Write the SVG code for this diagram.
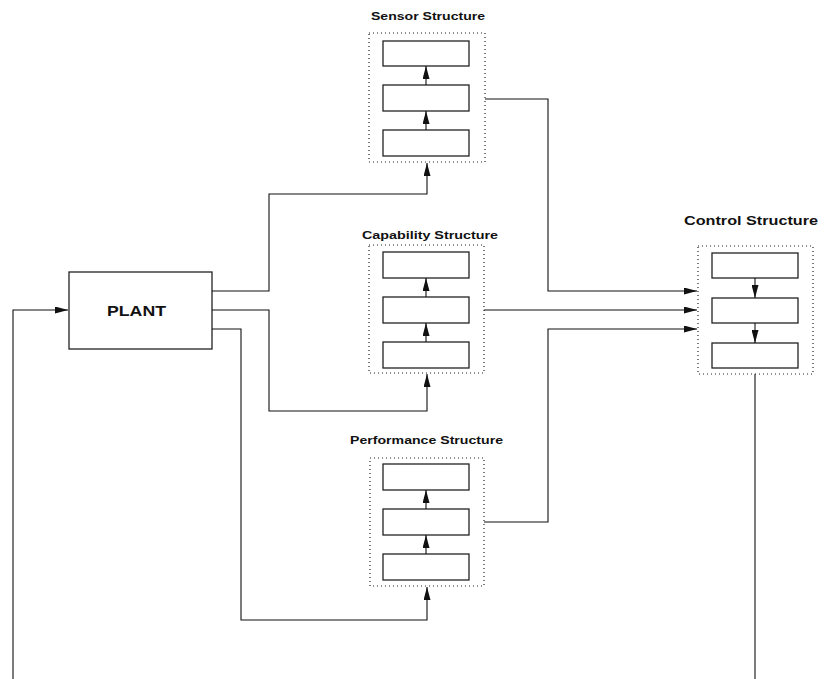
<svg xmlns="http://www.w3.org/2000/svg" width="828" height="679" viewBox="0 0 828 679">
<style>
.bg{fill:#fff}
.box{fill:#fff;stroke:#222;stroke-width:1.3}
.dot{fill:none;stroke:#222;stroke-width:1.2;stroke-dasharray:1 3}
.ln{fill:none;stroke:#111;stroke-width:1.1}
.lbl{font-family:"Liberation Sans",Arial,sans-serif;font-weight:bold;fill:#111;text-anchor:start}
</style>
<defs>
<marker id="ah" markerUnits="userSpaceOnUse" markerWidth="13" markerHeight="7" refX="13" refY="3.5" orient="auto">
<path d="M0,0 L13,3.5 L0,7 z" fill="#111"/>
</marker>
</defs>
<rect class="bg" x="0" y="0" width="828" height="679"/>

<g id="plant">
<rect class="box" x="69" y="272" width="143" height="77"/>
<text class="lbl" x="107" y="316" font-size="14.5" textLength="59" lengthAdjust="spacingAndGlyphs">PLANT</text>
</g>

<g id="sensor">
<text class="lbl" x="371" y="19.5" font-size="11" textLength="114" lengthAdjust="spacingAndGlyphs">Sensor Structure</text>
<rect class="dot" x="369" y="33" width="116" height="129"/>
<rect class="box" x="383" y="41" width="86" height="25"/>
<rect class="box" x="383" y="85" width="86" height="26"/>
<rect class="box" x="383" y="130" width="86" height="26"/>
</g>

<g id="capability">
<text class="lbl" x="362" y="239" font-size="11" textLength="136" lengthAdjust="spacingAndGlyphs">Capability Structure</text>
<rect class="dot" x="369" y="245" width="115" height="128"/>
<rect class="box" x="383" y="252" width="86" height="26"/>
<rect class="box" x="383" y="297" width="86" height="26"/>
<rect class="box" x="383" y="342" width="86" height="26"/>
</g>

<g id="performance">
<text class="lbl" x="350" y="444" font-size="11" textLength="153" lengthAdjust="spacingAndGlyphs">Performance Structure</text>
<rect class="dot" x="370" y="458" width="114" height="128"/>
<rect class="box" x="383" y="464" width="86" height="26"/>
<rect class="box" x="383" y="509" width="86" height="26"/>
<rect class="box" x="383" y="554" width="86" height="26"/>
</g>

<g id="control">
<text class="lbl" x="684" y="225" font-size="13" textLength="134" lengthAdjust="spacingAndGlyphs">Control Structure</text>
<rect class="dot" x="698" y="246" width="115" height="128"/>
<rect class="box" x="712" y="253" width="86" height="25"/>
<rect class="box" x="712" y="298" width="86" height="25"/>
<rect class="box" x="712" y="343" width="86" height="25"/>
</g>

<g id="connectors">
<path class="ln" d="M426,85 V66" marker-end="url(#ah)"/>
<path class="ln" d="M426,130 V111" marker-end="url(#ah)"/>
<path class="ln" d="M426,297 V278" marker-end="url(#ah)"/>
<path class="ln" d="M426,342 V323" marker-end="url(#ah)"/>
<path class="ln" d="M426,509 V490" marker-end="url(#ah)"/>
<path class="ln" d="M426,554 V535" marker-end="url(#ah)"/>
<path class="ln" d="M755,278 V298" marker-end="url(#ah)"/>
<path class="ln" d="M755,323 V343" marker-end="url(#ah)"/>

<path class="ln" d="M485,99 H548 V291 H697" marker-end="url(#ah)"/>
<path class="ln" d="M484,310 H697" marker-end="url(#ah)"/>
<path class="ln" d="M484,522 H548 V329 H697" marker-end="url(#ah)"/>

<path class="ln" d="M212,291 H269 V194 H427 V163" marker-end="url(#ah)"/>
<path class="ln" d="M212,310 H269 V411 H427 V374" marker-end="url(#ah)"/>
<path class="ln" d="M212,329 H241 V620 H427 V587" marker-end="url(#ah)"/>

<path class="ln" d="M755,374 V679"/>
<path class="ln" d="M13,679 V310 H68" marker-end="url(#ah)"/>
</g>
</svg>
